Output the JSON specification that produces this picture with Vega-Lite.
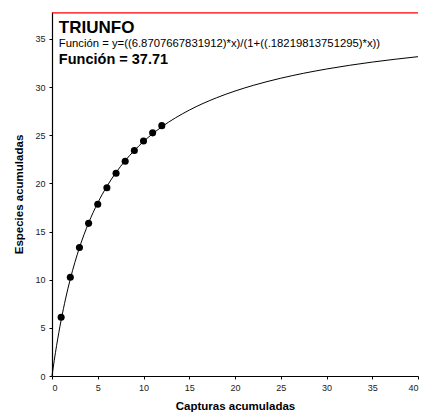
{
  "$schema": "https://vega.github.io/schema/vega-lite/v6.json",
  "width": 366,
  "height": 364,
  "autosize": {"type": "none"},
  "padding": {"left": 52, "top": 12, "right": 15, "bottom": 38},
  "background": "white",
  "config": {
    "view": {"stroke": null},
    "font": "Liberation Sans",
    "axis": {
      "grid": false,
      "domainColor": "black",
      "domainWidth": 1.2,
      "tickColor": "black",
      "tickSize": 3,
      "labelFont": "Liberation Sans",
      "labelFontSize": 9,
      "labelColor": "#222",
      "titleFont": "Liberation Sans",
      "titleFontSize": 11.5,
      "titleFontWeight": "bold",
      "titleColor": "black"
    }
  },
  "datasets": {
    "curve": [
      {"x": 0, "y": 0},
      {"x": 0.25, "y": 1.643},
      {"x": 0.5, "y": 3.149},
      {"x": 1, "y": 5.812},
      {"x": 1.5, "y": 8.094},
      {"x": 2, "y": 10.072},
      {"x": 3, "y": 13.328},
      {"x": 4, "y": 15.897},
      {"x": 5, "y": 17.977},
      {"x": 6, "y": 19.695},
      {"x": 7, "y": 21.137},
      {"x": 8, "y": 22.366},
      {"x": 9, "y": 23.425},
      {"x": 10, "y": 24.347},
      {"x": 12, "y": 25.876},
      {"x": 15, "y": 27.609},
      {"x": 18, "y": 28.899},
      {"x": 20, "y": 29.590},
      {"x": 22, "y": 30.181},
      {"x": 25, "y": 30.922},
      {"x": 30, "y": 31.878},
      {"x": 35, "y": 32.599},
      {"x": 40, "y": 33.160}
    ],
    "obs": [
      {"x": 1, "y": 6.1},
      {"x": 2, "y": 10.25},
      {"x": 3, "y": 13.35},
      {"x": 4, "y": 15.85},
      {"x": 5, "y": 17.83},
      {"x": 6, "y": 19.55},
      {"x": 7, "y": 21.05},
      {"x": 8, "y": 22.3},
      {"x": 9, "y": 23.42},
      {"x": 10, "y": 24.4},
      {"x": 11, "y": 25.25},
      {"x": 12, "y": 26.0}
    ],
    "asym": [{"x": 0, "x2": 40, "y": 37.71}]
  },
  "layer": [
    {
      "data": {"name": "asym"},
      "mark": {"type": "rule", "color": "#ff0000", "strokeWidth": 1.2},
      "encoding": {
        "x": {"field": "x", "type": "quantitative", "scale": {"domain": [0, 40], "nice": false},
              "axis": {"values": [0, 5, 10, 15, 20, 25, 30, 35, 40], "title": "Capturas acumuladas", "titlePadding": 8, "labelPadding": 4}},
        "x2": {"field": "x2"},
        "y": {"field": "y", "type": "quantitative", "scale": {"domain": [0, 37.8], "nice": false},
              "axis": {"values": [0, 5, 10, 15, 20, 25, 30, 35], "title": "Especies acumuladas", "titlePadding": 10, "labelPadding": 4}}
      }
    },
    {
      "data": {"name": "curve"},
      "mark": {"type": "line", "color": "black", "strokeWidth": 1, "interpolate": "monotone"},
      "encoding": {
        "x": {"field": "x", "type": "quantitative"},
        "y": {"field": "y", "type": "quantitative"}
      }
    },
    {
      "data": {"name": "obs"},
      "mark": {"type": "point", "filled": true, "color": "black", "size": 50, "opacity": 1},
      "encoding": {
        "x": {"field": "x", "type": "quantitative"},
        "y": {"field": "y", "type": "quantitative"}
      }
    },
    {
      "data": {"values": [{"t": "TRIUNFO"}]},
      "mark": {"type": "text", "align": "left", "baseline": "alphabetic", "fontSize": 17, "fontWeight": "bold", "color": "black"},
      "encoding": {
        "x": {"datum": 0.75, "type": "quantitative"},
        "y": {"datum": 35.6, "type": "quantitative"},
        "text": {"field": "t"}
      }
    },
    {
      "data": {"values": [{"t": "Función = y=((6.8707667831912)*x)/(1+((.18219813751295)*x))"}]},
      "mark": {"type": "text", "align": "left", "baseline": "alphabetic", "fontSize": 11.3, "color": "black"},
      "encoding": {
        "x": {"datum": 0.75, "type": "quantitative"},
        "y": {"datum": 34.15, "type": "quantitative"},
        "text": {"field": "t"}
      }
    },
    {
      "data": {"values": [{"t": "Función = 37.71"}]},
      "mark": {"type": "text", "align": "left", "baseline": "alphabetic", "fontSize": 14.5, "fontWeight": "bold", "color": "black"},
      "encoding": {
        "x": {"datum": 0.75, "type": "quantitative"},
        "y": {"datum": 32.4, "type": "quantitative"},
        "text": {"field": "t"}
      }
    }
  ]
}
